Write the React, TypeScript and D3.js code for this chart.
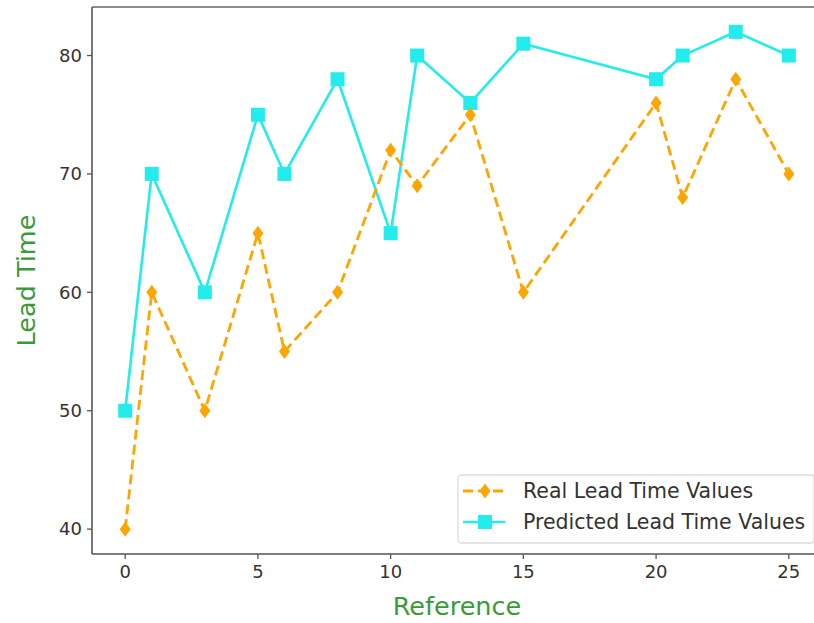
import React from 'react';
import * as d3 from 'd3';

const references = [0, 1, 3, 5, 6, 8, 10, 11, 13, 15, 20, 21, 23, 25];
const realValues = [40, 60, 50, 65, 55, 60, 72, 69, 75, 60, 76, 68, 78, 70];
const predictedValues = [50, 70, 60, 75, 70, 78, 65, 80, 76, 81, 78, 80, 82, 80];
const xTicks = [0, 5, 10, 15, 20, 25];
const yTicks = [40, 50, 60, 70, 80];

const W = 814;
const H = 623;
const left = 92;
const right = 822;
const top = 7;
const bottom = 554;

const ORANGE = '#ffa500';
const CYAN = '#22ecec';
const GREEN = '#3a9a3a';
const FONT = 'DejaVu Sans, sans-serif';

const x = d3.scaleLinear().domain([-1.25, 26.25]).range([left, right]);
const y = d3.scaleLinear().domain([37.9, 84.1]).range([bottom, top]);

const line = d3
	.line<number>()
	.x((_, i) => x(references[i]))
	.y((d) => y(d));

const diamond = (cx: number, cy: number) =>
	`M${cx},${cy - 7.5}L${cx + 5.5},${cy}L${cx},${cy + 7.5}L${cx - 5.5},${cy}Z`;

const Square = ({ cx, cy }: { cx: number; cy: number }) => (
	<rect x={cx - 7} y={cy - 7} width={14} height={14} fill={CYAN} />
);

export default function App() {
	const legendX = 458;
	const legendY = 475;
	return (
		<svg
			width={W}
			height={H}
			style={{ position: 'absolute', left: 0, top: 0, background: '#fff' }}
			fontFamily={FONT}
		>
			<rect width={W} height={H} fill="#fff" />

			{/* predicted series */}
			<path d={line(predictedValues) || ''} fill="none" stroke={CYAN} strokeWidth={2.6} />
			{predictedValues.map((v, i) => (
				<Square key={'p' + i} cx={x(references[i])} cy={y(v)} />
			))}

			{/* real series */}
			<path
				d={line(realValues) || ''}
				fill="none"
				stroke={ORANGE}
				strokeWidth={2.8}
				strokeDasharray="10,5"
			/>
			{realValues.map((v, i) => (
				<path key={'r' + i} d={diamond(x(references[i]), y(v))} fill={ORANGE} />
			))}

			{/* spines */}
			<line x1={left} x2={right} y1={top} y2={top} stroke="#666" strokeWidth={1.6} />
			<line x1={left} x2={left} y1={top} y2={bottom} stroke="#555" strokeWidth={1.6} />
			<line x1={left} x2={right} y1={bottom} y2={bottom} stroke="#555" strokeWidth={1.6} />
			<line x1={right} x2={right} y1={top} y2={bottom} stroke="#555" strokeWidth={1.6} />

			{/* x ticks */}
			{xTicks.map((t) => (
				<g key={'x' + t} transform={`translate(${x(t)},${bottom})`}>
					<line y2={5} stroke="#555" strokeWidth={1.3} />
					<text y={24} textAnchor="middle" fontSize={18} fill="#333">
						{t}
					</text>
				</g>
			))}

			{/* y ticks */}
			{yTicks.map((t) => (
				<g key={'y' + t} transform={`translate(${left},${y(t)})`}>
					<line x2={-5} stroke="#555" strokeWidth={1.3} />
					<text x={-10} dy="0.35em" textAnchor="end" fontSize={18} fill="#333">
						{t}
					</text>
				</g>
			))}

			{/* axis labels */}
			<text
				x={(left + right) / 2}
				y={615}
				textAnchor="middle"
				fontSize={25.5}
				fill={GREEN}
			>
				Reference
			</text>
			<text
				transform={`translate(35,${(top + bottom) / 2}) rotate(-90)`}
				textAnchor="middle"
				fontSize={25.5}
				fill={GREEN}
			>
				Lead Time
			</text>

			{/* legend */}
			<g transform={`translate(${legendX},${legendY})`}>
				<rect
					x={0}
					y={0}
					width={356}
					height={68}
					rx={3}
					fill="#fff"
					fillOpacity={0.85}
					stroke="#ddd"
					strokeWidth={1.3}
				/>
				<line x1={5} x2={47} y1={16} y2={16} stroke={ORANGE} strokeWidth={2.8} strokeDasharray="10,5" />
				<path d={diamond(27, 16)} fill={ORANGE} />
				<text x={65} y={16} dy="0.35em" fontSize={20.5} fill="#333">
					Real Lead Time Values
				</text>
				<line x1={5} x2={47} y1={47} y2={47} stroke={CYAN} strokeWidth={2.6} />
				<Square cx={27} cy={47} />
				<text x={65} y={47} dy="0.35em" fontSize={20.5} fill="#333">
					Predicted Lead Time Values
				</text>
			</g>
		</svg>
	);
}
